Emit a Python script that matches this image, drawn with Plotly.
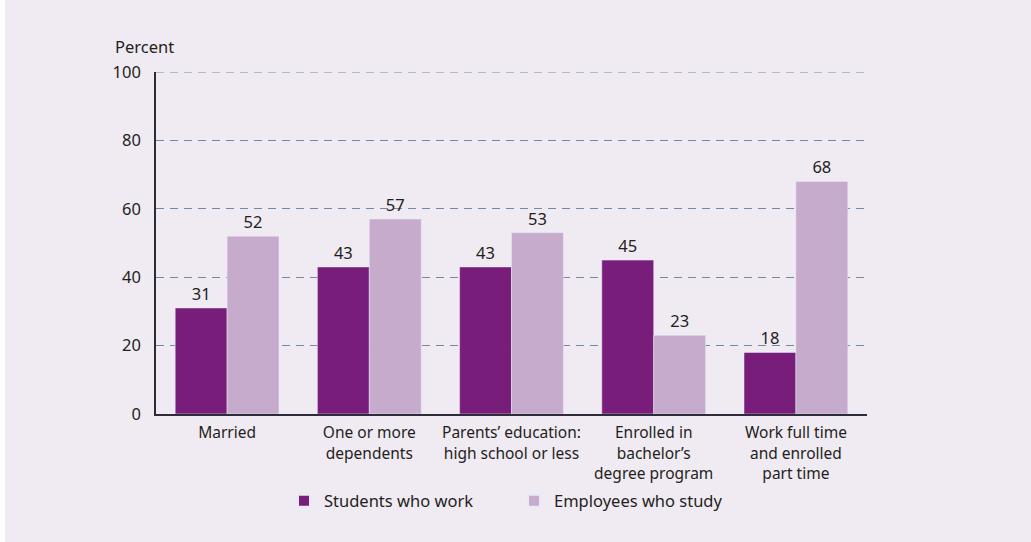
import plotly.graph_objects as go

categories = ["Married", "One or more<br>dependents", "Parents’ education:<br>high school or less",
              "Enrolled in<br>bachelor’s<br>degree program", "Work full time<br>and enrolled<br>part time"]
students_who_work = [31, 43, 43, 45, 18]
employees_who_study = [52, 57, 53, 23, 68]
y_ticks = [0, 20, 40, 60, 80, 100]

BG = "#F0EAF2"
DARK = "#781E7A"
LIGHT = "#C6ABCD"
TXT = "#231F20"
FONT = "Noto Sans"
GRID = "#6F8BA8"

W, H = 1031, 542
L, R, T, B = 156, W - 867, 72, H - 414
pw, ph = W - L - R, H - T - B

def px(x):
    return (x - L) / pw

def py(y):
    return (H - B - y) / ph

fig = go.Figure()
fig.add_bar(x=categories, y=students_who_work, name="Students who work", marker_color=DARK,
            text=students_who_work, textposition="outside", cliponaxis=False,
            textfont=dict(size=16.5, color=TXT, family=FONT))
fig.add_bar(x=categories, y=employees_who_study, name="Employees who study", marker_color=LIGHT,
            text=employees_who_study, textposition="outside", cliponaxis=False,
            textfont=dict(size=16.5, color=TXT, family=FONT))

fig.update_layout(
    width=W, height=H,
    margin=dict(l=L, r=R, t=T, b=B, pad=0),
    paper_bgcolor="white", plot_bgcolor=BG,
    font=dict(family=FONT, size=15, color=TXT),
    barmode="group", bargap=0.27, bargroupgap=0,
    showlegend=True,
    legend=dict(orientation="h", x=px(284), xanchor="left", y=py(501), yanchor="middle",
                entrywidth=185, entrywidthmode="pixels", bgcolor="rgba(0,0,0,0)",
                font=dict(size=16.5, color=TXT, family=FONT), itemsizing="constant"),
    shapes=[dict(type="rect", xref="paper", yref="paper", x0=px(5), x1=px(W + 5), y0=py(H + 5), y1=py(-5),
                 fillcolor=BG, line=dict(width=0), layer="below"),
            dict(type="line", xref="paper", yref="y", x0=0, x1=1, y0=y_ticks[-1], y1=y_ticks[-1],
                 line=dict(color=GRID, width=1, dash="8px,6px"), layer="below")],
    annotations=[dict(text="Percent", xref="paper", yref="paper", x=px(113), y=py(47),
                      xanchor="left", yanchor="middle", showarrow=False,
                      font=dict(size=16.5, color=TXT, family=FONT))],
)
fig.update_xaxes(showline=True, linecolor="#2E2B3A", linewidth=1.5, ticks="", showgrid=False,
                 tickfont=dict(size=15.5, color=TXT, family=FONT), ticklabelstandoff=4)
fig.update_yaxes(range=[0, 100], tickvals=y_ticks, showline=True, linecolor="#2E2B3A", linewidth=1.5,
                 ticks="", showgrid=True, gridcolor=GRID, gridwidth=1, griddash="8px,6px",
                 zeroline=False, tickfont=dict(size=16.5, color=TXT, family=FONT), ticklabelstandoff=10)

fig.write_html("out.html", config={"displayModeBar": False},
               post_script="document.body.style.margin='0';")
